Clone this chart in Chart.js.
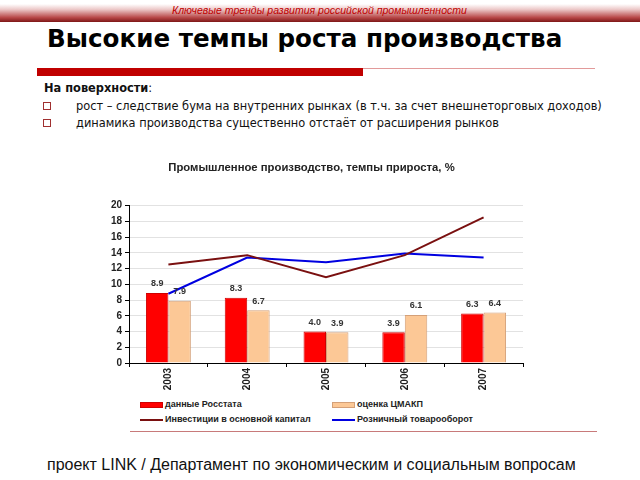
<!DOCTYPE html>
<html lang="ru">
<head>
<meta charset="utf-8">
<script src="https://cdn.jsdelivr.net/npm/chart.js@4/dist/chart.umd.min.js"></script>
<style>
  html, body { margin: 0; padding: 0; background: #fff; }
  body { width: 640px; height: 480px; position: relative; overflow: hidden; font-family: "DejaVu Sans", sans-serif; color: #111; }
  .band { position: absolute; left: 0; top: 4px; width: 640px; height: 18px;
    background: linear-gradient(to bottom, #fff 0%, #ecc8c8 30%, #b84848 75%, #7e1616 100%); }
  .band-text { position: absolute; left: 172px; top: 4px; font: italic 10.5px "Liberation Sans", Arial, sans-serif; color: #c00000; white-space: nowrap; }
  .title { position: absolute; left: 47px; top: 24px; font: bold 24.6px "DejaVu Sans", sans-serif; color: #000; white-space: nowrap; }
  .rule-thin { position: absolute; left: 37px; top: 68px; width: 558px; height: 1px; background: #e29a9a; }
  .rule-thick { position: absolute; left: 37px; top: 68px; width: 326px; height: 8px; background: #c00000; }
  .sub { position: absolute; left: 44px; top: 81px; font-size: 11.4px; white-space: nowrap; }
  .bullet { position: absolute; left: 43px; width: 600px; font-size: 11.4px; white-space: nowrap; }
  .bullet .sq { position: absolute; left: 0; top: 3px; width: 6px; height: 6px; border: 1px solid #a03030; }
  .bullet .tx { position: absolute; left: 33px; top: 0; }
  #chartBox { position: absolute; left: 100px; top: 150px; width: 430px; height: 245px; }
  .legend { position: absolute; font: bold 9px "Liberation Sans", Arial, sans-serif; color: #222; white-space: nowrap; }
  .legend .sw { position: absolute; left: 0; width: 23px; }
  .legend .lb { position: absolute; left: 25px; top: 0; }
  .rule-bottom { position: absolute; left: 130px; top: 431px; width: 467px; height: 1px; background: #c87a7a; }
  .footer { position: absolute; left: 47px; top: 456px; font: 16px "Liberation Sans", Arial, sans-serif; color: #111; white-space: nowrap; }
</style>
</head>
<body>
  <div class="band"></div>
  <div class="band-text">Ключевые тренды развития российской промышленности</div>
  <div class="title">Высокие темпы роста производства</div>
  <div class="rule-thin"></div>
  <div class="rule-thick"></div>
  <div class="sub"><b>На поверхности</b>:</div>
  <div class="bullet" style="top:99px;"><span class="sq"></span><span class="tx">рост – следствие бума на внутренних рынках (в т.ч. за счет внешнеторговых доходов)</span></div>
  <div class="bullet" style="top:116px;"><span class="sq"></span><span class="tx">динамика производства существенно отстаёт от расширения рынков</span></div>

  <div id="chartBox"><canvas id="chart"></canvas></div>
  <div id="legend"></div>
  <div class="rule-bottom"></div>
  <div class="footer">проект LINK / Департамент по экономическим и социальным вопросам</div>

<script>
// данные (темпы прироста, %)
const years = ['2003', '2004', '2005', '2006', '2007'];
const rosstat = [8.9, 8.3, 4.0, 3.9, 6.3];
const cmakp = [7.9, 6.7, 3.9, 6.1, 6.4];
const investments = [12.5, 13.7, 10.9, 13.7, 18.5];
const retail = [8.8, 13.4, 12.8, 13.9, 13.4];
const yTicks = [0, 2, 4, 6, 8, 10, 12, 14, 16, 18, 20];

const labelFont = "'Liberation Sans', Arial, sans-serif";

// подписи значений над столбиками
const barValues = {
  id: 'barValues',
  afterDatasetsDraw(chart) {
    const ctx = chart.ctx;
    ctx.save();
    ctx.font = `bold 9px ${labelFont}`;
    ctx.fillStyle = '#333';
    ctx.textAlign = 'center';
    ctx.textBaseline = 'middle';
    chart.data.datasets.forEach((ds, i) => {
      if (ds.type !== 'bar') return;
      chart.getDatasetMeta(i).data.forEach((bar, j) => {
        ctx.fillText(ds.data[j].toFixed(1), bar.x, bar.y - 9);
      });
    });
    ctx.restore();
  }
};

const chart = new Chart(document.getElementById('chart'), {
  type: 'bar',
  data: {
    labels: years,
    datasets: [
      { type: 'bar', label: 'данные Росстата', data: rosstat,
        backgroundColor: '#ff0000', borderColor: '#d00000', borderWidth: 1, order: 2 },
      { type: 'bar', label: 'оценка ЦМАКП', data: cmakp,
        backgroundColor: '#fcc896', borderColor: '#d4a078', borderWidth: 1, order: 2 },
      { type: 'line', label: 'Инвестиции в основной капитал', data: investments,
        borderColor: '#7a1010', borderWidth: 2, pointRadius: 0, tension: 0, fill: false, order: 1 },
      { type: 'line', label: 'Розничный товарооборот', data: retail,
        borderColor: '#0000e0', borderWidth: 2, pointRadius: 0, tension: 0, fill: false, order: 1 },
    ],
  },
  options: {
    responsive: true,
    maintainAspectRatio: false,
    animation: false,
    categoryPercentage: 0.57,
    barPercentage: 1.0,
    layout: { padding: { top: 0, right: 7, bottom: 3, left: 0 } },
    plugins: {
      legend: { display: false },
      tooltip: { enabled: false },
      title: {
        display: true,
        text: 'Промышленное производство, темпы прироста, %',
        color: '#222',
        font: { family: labelFont, size: 11.3, weight: 'bold' },
        padding: { top: 11, bottom: 31 },
      },
    },
    scales: {
      x: {
        offset: true,
        grid: { offset: true, drawOnChartArea: false, drawTicks: true, tickLength: 4, tickColor: '#000' },
        border: { color: '#000', width: 1 },
        ticks: { color: '#222', font: { family: labelFont, size: 10, weight: 'bold' },
          minRotation: 90, maxRotation: 90, padding: 1 },
        afterFit: (s) => { s.height = 29; },
      },
      y: {
        min: 0, max: 20,
        afterBuildTicks: (s) => { s.ticks = yTicks.map(v => ({ value: v })); },
        grid: { color: '#e2e2e2', tickLength: 4, tickColor: '#000' },
        border: { color: '#000', width: 1 },
        ticks: { color: '#222', font: { family: labelFont, size: 10, weight: 'bold' }, padding: 3 },
        afterFit: (s) => { s.width = 29; },
      },
    },
  },
  plugins: [barValues],
});

// легенда 2x2 под графиком
const legendPos = [
  { x: 140, y: 399 }, { x: 332, y: 399 },
  { x: 140, y: 414 }, { x: 332, y: 414 },
];
const legendEl = document.getElementById('legend');
chart.data.datasets.forEach((ds, i) => {
  const p = legendPos[i];
  const item = document.createElement('div');
  item.className = 'legend';
  item.style.left = p.x + 'px';
  item.style.top = p.y + 'px';
  const sw = ds.type === 'bar'
    ? `<span class="sw" style="top:3px;height:4px;background:${ds.backgroundColor};border:1px solid ${ds.borderColor};width:21px;"></span>`
    : `<span class="sw" style="top:5px;height:2px;background:${ds.borderColor};"></span>`;
  item.innerHTML = sw + `<span class="lb">${ds.label}</span>`;
  legendEl.appendChild(item);
});
</script>
</body>
</html>
